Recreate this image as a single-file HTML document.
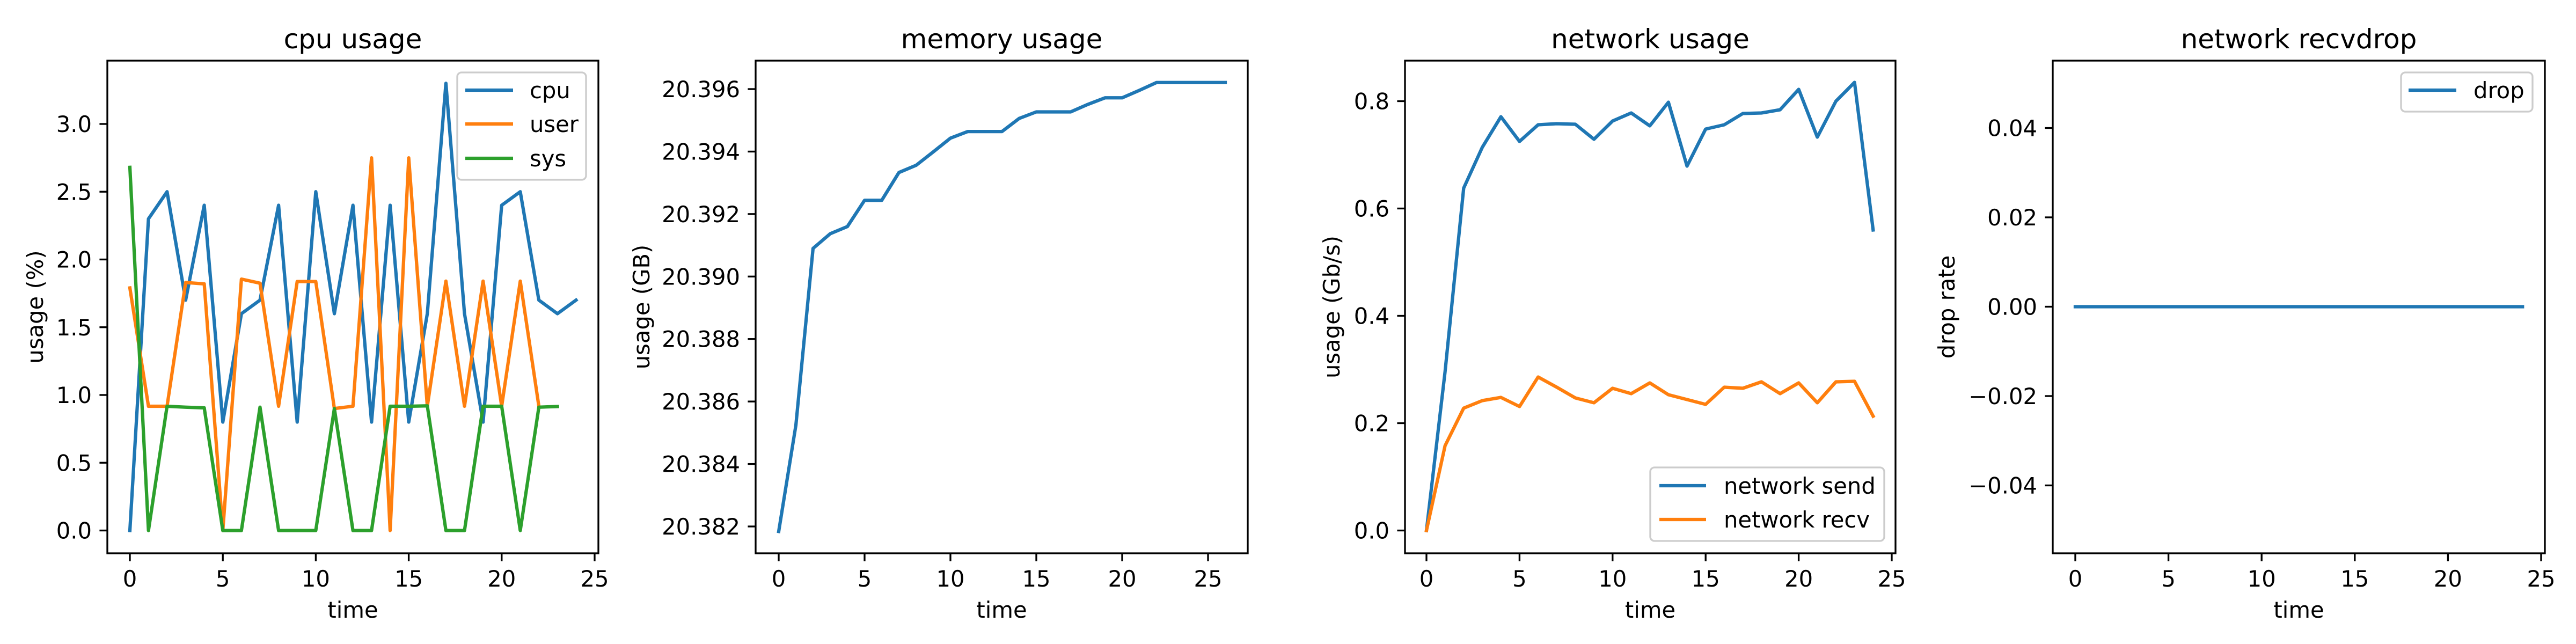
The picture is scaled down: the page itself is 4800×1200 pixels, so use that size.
<!DOCTYPE html>
<html><head><meta charset="utf-8"><style>
html,body{margin:0;padding:0;background:#fff;}
svg{display:block;}
text{font-family:"DejaVu Sans","Liberation Sans",sans-serif;fill:#000;}
</style></head><body>
<svg id="fig" width="4800" height="1200" viewBox="0 0 4800 1200" xmlns="http://www.w3.org/2000/svg"></svg>
<script>
// ---- data ----
const timeTicks = [0, 5, 10, 15, 20, 25];
const cpuSeries = [0, 2.3, 2.5, 1.7, 2.4, 0.8, 1.6, 1.7, 2.4, 0.8, 2.5, 1.6, 2.4, 0.8, 2.4, 0.8, 1.6, 3.3, 1.6, 0.8, 2.4, 2.5, 1.7, 1.6, 1.7];
const userSeries = [1.79, 0.917, 0.917, 1.83, 1.82, 0, 1.855, 1.825, 0.917, 1.837, 1.837, 0.9, 0.917, 2.75, 0, 2.75, 0.917, 1.84, 0.917, 1.84, 0.917, 1.84, 0.917];
const sysSeries = [2.68, 0, 0.917, 0.91, 0.905, 0, 0, 0.91, 0, 0, 0, 0.9, 0, 0, 0.917, 0.917, 0.92, 0, 0, 0.917, 0.917, 0, 0.91, 0.915];
const cpuTicks = [0.0, 0.5, 1.0, 1.5, 2.0, 2.5, 3.0];
const cpuTickLabels = ["0.0", "0.5", "1.0", "1.5", "2.0", "2.5", "3.0"];
const memSeries = [20.38184, 20.38524, 20.3909, 20.39137, 20.3916, 20.39244, 20.39244, 20.39333, 20.39356, 20.39399, 20.39443, 20.39464, 20.39464, 20.39464, 20.39506, 20.39527, 20.39527, 20.39527, 20.39551, 20.39572, 20.39572, 20.39596, 20.39621, 20.39621, 20.39621, 20.39621, 20.39621];
const memTicks = [20.382, 20.384, 20.386, 20.388, 20.390, 20.392, 20.394, 20.396];
const memTickLabels = ["20.382", "20.384", "20.386", "20.388", "20.390", "20.392", "20.394", "20.396"];
const sendSeries = [0, 0.296, 0.638, 0.714, 0.771, 0.725, 0.756, 0.758, 0.757, 0.729, 0.763, 0.778, 0.754, 0.798, 0.679, 0.748, 0.756, 0.777, 0.778, 0.784, 0.822, 0.733, 0.8, 0.835, 0.56];
const recvSeries = [0, 0.158, 0.228, 0.242, 0.248, 0.231, 0.286, 0.267, 0.247, 0.238, 0.265, 0.255, 0.275, 0.253, 0.244, 0.235, 0.267, 0.265, 0.277, 0.255, 0.275, 0.238, 0.277, 0.278, 0.213];
const netTicks = [0.0, 0.2, 0.4, 0.6, 0.8];
const netTickLabels = ["0.0", "0.2", "0.4", "0.6", "0.8"];
const dropSeries = [0, 0, 0, 0, 0, 0, 0, 0, 0, 0, 0, 0, 0, 0, 0, 0, 0, 0, 0, 0, 0, 0, 0, 0, 0];
const dropTicks = [-0.04, -0.02, 0.00, 0.02, 0.04];
const dropTickLabels = ["\u22120.04", "\u22120.02", "0.00", "0.02", "0.04"];

const NS = "http://www.w3.org/2000/svg";
const fig = document.getElementById('fig');
const BLUE = "#1f77b4", ORANGE = "#ff7f0e", GREEN = "#2ca02c";
const TOP = 113, BOTTOM = 1031;

function mk(tag, attrs, parent) {
  const e = document.createElementNS(NS, tag);
  for (const k in attrs) e.setAttribute(k, attrs[k]);
  (parent || fig).appendChild(e);
  return e;
}
function txt(s, attrs, parent) { const t = mk('text', attrs, parent); t.textContent = s; return t; }

function panel(p) {
  const g = mk('g', {});
  
  
  const xs = v => p.x0 + (p.x25 - p.x0) * v / 25;
  const ys = v => p.yApx + (p.yBpx - p.yApx) * (v - p.yA) / (p.yB - p.yA);
  p.series.forEach(s => {
    const pts = s.data.map((v, i) => xs(i).toFixed(2) + "," + ys(v).toFixed(2)).join(" ");
    const l = mk('polyline', {points: pts, fill: 'none', stroke: s.color, 'stroke-width': 6.25, 'stroke-linejoin': 'round', 'stroke-linecap': 'square'}, g);
    
    
  });
  const fr = mk('rect', {x: p.left, y: TOP, width: p.right - p.left, height: BOTTOM - TOP, fill: 'none', stroke: '#000', 'stroke-width': 3.33}, g);
  
  
  timeTicks.forEach(t => {
    const x = xs(t);
    mk('line', {x1: x, x2: x, y1: BOTTOM, y2: BOTTOM + 14.6, stroke: '#000', 'stroke-width': 3.33}, g);
    const lab = txt(String(t), {x: x, y: 1093, 'font-size': 41.7, 'text-anchor': 'middle'}, g);
    
    
  });
  p.yticks.forEach((t, i) => {
    const y = ys(t);
    mk('line', {x1: p.left - 14.6, x2: p.left, y1: y, y2: y, stroke: '#000', 'stroke-width': 3.33}, g);
    const lab = txt(p.ylabels[i], {x: p.left - 29, y: y + 15, 'font-size': 41.7, 'text-anchor': 'end'}, g);
    
    
  });
  const title = txt(p.title, {x: (p.left + p.right) / 2, y: 90, 'font-size': 50, 'text-anchor': 'middle'}, g);
  
  
  const xl = txt('time', {x: (p.left + p.right) / 2, y: 1151, 'font-size': 41.7, 'text-anchor': 'middle'}, g);
  
  
  const yl = txt(p.ytitle, {x: 0, y: 0, 'font-size': 41.7, 'text-anchor': 'middle', transform: 'translate(' + (p.ytx + 15) + ',572) rotate(-90)'}, g);
  
  
  if (p.legend) {
    const L = p.legend;
    const lg = mk('g', {}, g);
    
    
    mk('rect', {x: L.x, y: L.y, width: L.w, height: L.h, rx: 8, fill: 'rgba(255,255,255,0.8)', stroke: '#cccccc', 'stroke-width': 3.33}, lg);
    L.items.forEach((it, i) => {
      const y = L.ey[i];
      const ln = mk('line', {x1: L.lx1, x2: L.lx2, y1: y, y2: y, stroke: it.color, 'stroke-width': 6.25}, lg);
      
      
      const t = txt(it.label, {x: L.tx, y: y + 15, 'font-size': 41.7}, lg);
      
      
    });
  }
}

panel({name: 'cpu-usage-chart', title: 'cpu usage', ytitle: 'usage (%)', left: 200, right: 1115, x0: 242, x25: 1108,
  yA: 0, yApx: 988.5, yB: 3, yBpx: 231, yticks: cpuTicks, ylabels: cpuTickLabels, ytx: 65,
  series: [{id: 'cpu', data: cpuSeries, color: BLUE}, {id: 'user', data: userSeries, color: ORANGE}, {id: 'sys', data: sysSeries, color: GREEN}],
  legend: {x: 852, y: 135, w: 240, h: 200, lx1: 867, lx2: 956, tx: 987, ey: [168, 231, 295],
    items: [{label: 'cpu', color: BLUE}, {label: 'user', color: ORANGE}, {label: 'sys', color: GREEN}]}});

panel({name: 'memory-usage-chart', title: 'memory usage', ytitle: 'usage (GB)', left: 1408, right: 2325, x0: 1451, x25: 2251,
  yA: 20.382, yApx: 981, yB: 20.396, yBpx: 166, yticks: memTicks, ylabels: memTickLabels, ytx: 1195,
  series: [{id: 'memory', data: memSeries, color: BLUE}]});

panel({name: 'network-usage-chart', title: 'network usage', ytitle: 'usage (Gb/s)', left: 2618, right: 3532, x0: 2658, x25: 3525,
  yA: 0, yApx: 988.5, yB: 0.8, yBpx: 188.5, yticks: netTicks, ylabels: netTickLabels, ytx: 2481,
  series: [{id: 'network-send', data: sendSeries, color: BLUE}, {id: 'network-recv', data: recvSeries, color: ORANGE}],
  legend: {x: 3075, y: 871, w: 436, h: 137, lx1: 3092, lx2: 3179, tx: 3212, ey: [905, 968],
    items: [{label: 'network send', color: BLUE}, {label: 'network recv', color: ORANGE}]}});

panel({name: 'network-recvdrop-chart', title: 'network recvdrop', ytitle: 'drop rate', left: 3825, right: 4742, x0: 3867, x25: 4735,
  yA: 0, yApx: 571.5, yB: 0.04, yBpx: 238.5, yticks: dropTicks, ylabels: dropTickLabels, ytx: 3627,
  series: [{id: 'drop', data: dropSeries, color: BLUE}],
  legend: {x: 4474, y: 135, w: 245, h: 73, lx1: 4488, lx2: 4577, tx: 4609, ey: [168],
    items: [{label: 'drop', color: BLUE}]}});
</script>
</body></html>
